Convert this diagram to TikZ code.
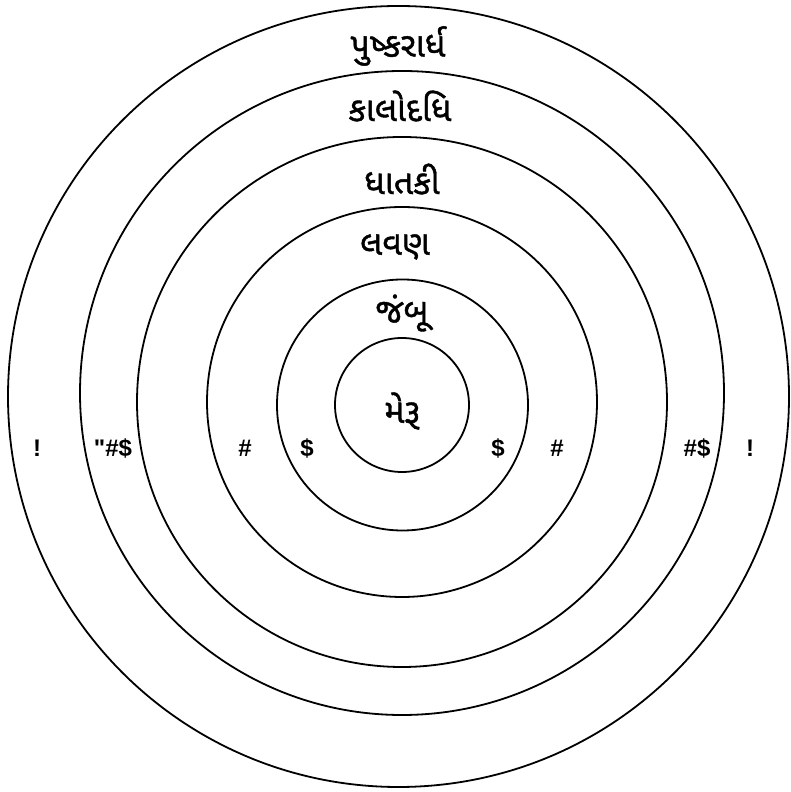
\documentclass[tikz,border=0pt]{standalone}
\usepackage{fontspec}
\setmainfont{Liberation Sans}
\newfontfamily\lblfont{Liberation Sans}
\newfontfamily\guj[Script=Gujarati,FakeBold=1.2]{Noto Sans Gujarati UI}
\begin{document}
\begin{tikzpicture}[x=1pt,y=1pt,
  ring/.style={draw=black,line width=1.8pt},
  gname/.style={font=\guj\fontsize{34}{38}\selectfont,inner sep=0pt},
  glyphlbl/.style={font=\lblfont\bfseries\fontsize{24}{28}\selectfont,inner sep=0pt}]
\useasboundingbox (0,0) rectangle (790,792);
\coordinate (o1) at (398.5,395.5);
\coordinate (o2) at (402,399);
\coordinate (o3) at (402,390);
\coordinate (o4) at (402,390);
\coordinate (o5) at (402.5,387);
\coordinate (o6) at (402,387);
\draw[ring] (o1) circle[radius=390.5];
\draw[ring] (o2) circle[radius=322];
\draw[ring] (o3) circle[radius=265];
\draw[ring] (o4) circle[radius=195];
\draw[ring] (o5) circle[radius=125.5];
\draw[ring] (o6) circle[radius=67];
\node[gname] (t1) at (398,746) {પુષ્કરાર્ધ};
\node[gname] (t2) at (400,686) {કાલોદધિ};
\node[gname] (t3) at (402,613) {ધાતકી};
\node[gname] (t4) at (395,545) {લવણ};
\node[gname] (t5) at (402,479) {જંબૂ};
\node[gname] (t6) at (402,381) {મેરૂ};
\node[glyphlbl] (l1) at (37,344) {!};
\node[glyphlbl] (l2) at (113,344) {"\#\$};
\node[glyphlbl] (l3) at (245,344) {\#};
\node[glyphlbl] (l4) at (307,344) {\$};
\node[glyphlbl] (r4) at (498,344) {\$};
\node[glyphlbl] (r3) at (557,344) {\#};
\node[glyphlbl] (r2) at (697,344) {\#\$};
\node[glyphlbl] (r1) at (750,344) {!};
\end{tikzpicture}
\end{document}
